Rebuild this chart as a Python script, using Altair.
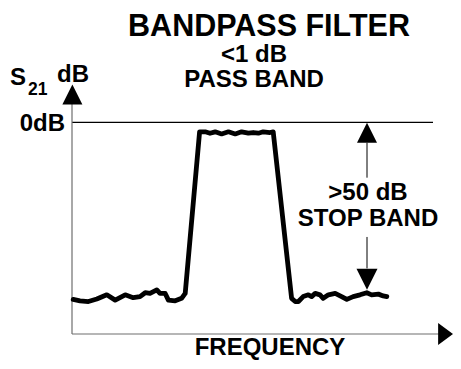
import altair as alt
import pandas as pd

# ---- data (schematic S21 response of a bandpass filter) ----
freq = [0.3, 2.0, 4.1, 6.2, 8.7, 10.8, 13.3, 15.3, 17.0, 18.3, 19.5, 21.2, 22.0, 23.3, 24.1, 25.8, 27.4, 28.3,
        31.9,
        33.3, 34.5, 35.8, 37.4, 39.1, 40.8, 42.4, 44.1, 45.3, 46.6, 47.8, 49.5, 50.3,
        54.9, 55.8, 56.6, 57.8, 59.1, 59.9, 60.8, 62.0, 62.8, 64.1, 65.8, 67.4, 68.7, 70.3, 72.0, 73.7,
        74.9, 76.6, 77.8, 78.7]
s21_db = [-50.2, -50.6, -50.8, -50.1, -48.9, -50.4, -48.9, -49.7, -49.4, -48.3, -48.5, -47.5, -48.5, -48.5,
          -50.4, -50.6, -49.9, -48.5,
          -2.7,
          -2.7, -3.1, -2.7, -3.3, -2.7, -3.3, -2.7, -3.1, -2.9, -3.1, -2.7, -2.9, -2.7,
          -49.9, -50.8, -50.8, -49.4, -48.9, -49.4, -48.5, -48.9, -49.9, -48.9, -48.5, -49.4, -50.2,
          -49.4, -48.9, -48.3, -48.9, -48.7, -49.2, -49.4]

ref_db = [0.0]              # 0 dB reference level
ref_span = [0.0, 90.25]     # frequency extent of the reference line
axis_floor_db = [-60.0]     # level of the frequency axis
x_axis_span = [0.0, 92.0]
y_axis_span = [-60.0, 6.0]
x_arrow_freq = [93.4]
y_arrow_db = [7.9]

stop_freq = [73.75]                     # stop-band dimension arrow
stop_up_head_db = [-3.0]
stop_down_head_db = [-44.5]
stop_shaft_top = [-5.8, -15.7]
stop_shaft_bottom = [-32.5, -41.4]

X_DOMAIN = [0, 94]
Y_DOMAIN = [-60, 10]

trace = pd.DataFrame({"f": freq, "db": s21_db, "i": range(len(freq))})

xs = alt.Scale(domain=X_DOMAIN, nice=False, zero=False)
ys = alt.Scale(domain=Y_DOMAIN, nice=False, zero=False)


def X(field, **kw):
    return alt.X(field, type="quantitative", scale=xs, axis=None, **kw)


def Y(field, **kw):
    return alt.Y(field, type="quantitative", scale=ys, axis=None, **kw)


AXIS_GRAY = "#6e6e6e"

line = alt.Chart(trace).mark_line(color="black", strokeWidth=4.8, strokeJoin="round",
                                  strokeCap="round").encode(
    x=X("f"), y=Y("db"), order="i:Q")

ref = alt.Chart(pd.DataFrame({"a": [ref_span[0]], "b": [ref_span[1]], "y": ref_db})).mark_rule(
    color="black", strokeWidth=1.2).encode(x=X("a"), x2="b", y=Y("y"))

xaxis = alt.Chart(pd.DataFrame({"a": [x_axis_span[0]], "b": [x_axis_span[1]], "y": axis_floor_db})).mark_rule(
    color=AXIS_GRAY, strokeWidth=1.2).encode(x=X("a"), x2="b", y=Y("y"))

yaxis = alt.Chart(pd.DataFrame({"x": [0.0], "a": [y_axis_span[0]], "b": [y_axis_span[1]]})).mark_rule(
    color=AXIS_GRAY, strokeWidth=1.2).encode(x=X("x"), y=Y("a"), y2="b")

UP = "M0,-1L1,1L-1,1Z"
DOWN = "M-1,-1L1,-1L0,1Z"
RIGHT = "M-0.68,-1L0.68,0L-0.68,1Z"

yhead = alt.Chart(pd.DataFrame({"x": [0.1], "y": y_arrow_db})).mark_point(
    shape=UP, filled=True, size=400, color="black", opacity=1).encode(x=X("x"), y=Y("y"))

xhead = alt.Chart(pd.DataFrame({"x": x_arrow_freq, "y": axis_floor_db})).mark_point(
    shape=RIGHT, filled=True, size=484, color="black", opacity=1).encode(x=X("x"), y=Y("y"))

stop_up = alt.Chart(pd.DataFrame({"x": stop_freq, "y": stop_up_head_db})).mark_point(
    shape=UP, filled=True, size=400, color="black", opacity=1).encode(x=X("x"), y=Y("y"))

stop_down = alt.Chart(pd.DataFrame({"x": stop_freq, "y": stop_down_head_db})).mark_point(
    shape=DOWN, filled=True, size=441, color="black", opacity=1).encode(x=X("x"), y=Y("y"))

shafts = alt.Chart(pd.DataFrame({
    "x": stop_freq * 2,
    "a": [stop_shaft_top[0], stop_shaft_bottom[0]],
    "b": [stop_shaft_top[1], stop_shaft_bottom[1]],
})).mark_rule(color="black", strokeWidth=1).encode(x=X("x"), y=Y("a"), y2="b")

FONT = "Liberation Sans"


def label(txt, x, y, size, align="center"):
    return alt.Chart(pd.DataFrame({"t": [txt]})).mark_text(
        font=FONT, fontWeight="bold", fontSize=size, align=align, baseline="alphabetic",
        color="black").encode(text="t:N", x=alt.value(x), y=alt.value(y))


texts = [
    label("BANDPASS FILTER", 197, -51, 30.5),
    label("<1 dB", 182, -25, 24),
    label("PASS BAND", 182, 0, 24),
    label("S", -62, -2, 24, "left"),
    label("21", -44, 8, 17.5, "left"),
    label("dB", -15, -5, 24, "left"),
    label("0dB", -7, 44, 24, "right"),
    label(">50 dB", 296, 113, 24),
    label("STOP BAND", 296, 139, 24),
    label("FREQUENCY", 198, 268, 24),
]

chart = alt.layer(ref, xaxis, yaxis, yhead, xhead, shafts, stop_up, stop_down, line, *texts).properties(
    width=376, height=247,
    autosize=alt.AutoSizeParams(type="none"),
    padding={"left": 64, "top": 79, "right": 5, "bottom": 27},
    background="white",
).configure_view(stroke=None)

chart.save("out.html", embed_options={"renderer": "svg", "actions": False})
